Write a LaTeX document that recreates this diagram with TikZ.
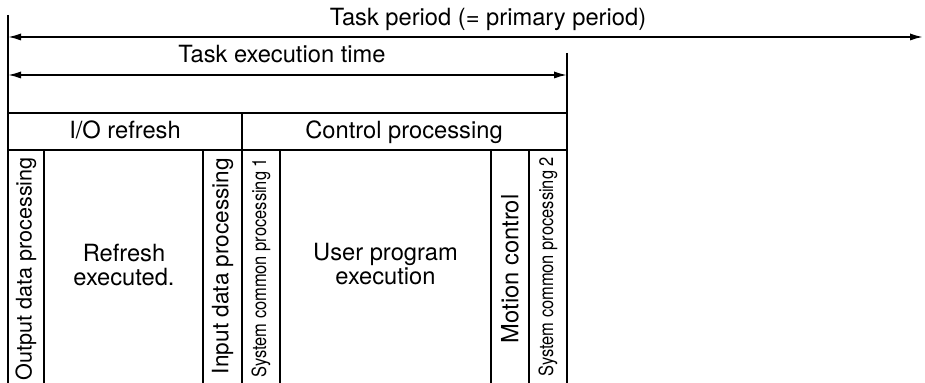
\documentclass[tikz,border=0pt]{standalone}
\usepackage{fontspec}
\setmainfont{TeX Gyre Heros}
\usepackage{graphicx}
\usetikzlibrary{arrows.meta}

\newcommand{\narrowtxt}[1]{\scalebox{0.84}[1]{#1}}

\tikzset{
  rule/.style={line width=0.9pt},
  span/.style={rule, {Latex[length=6.5pt,width=3.6pt]}-{Latex[length=6.5pt,width=3.6pt]}},
  lbl/.style={inner sep=0pt, font=\fontsize{11.85}{11.6}\selectfont},
  vlbl/.style={inner sep=0pt, rotate=90},
}

\begin{document}
\begin{tikzpicture}[x=0.5pt, y=-0.5pt]
  \useasboundingbox (0,0) rectangle (925,383);

  % Period and execution time
  \coordinate (per-a) at (8,37);
  \coordinate (per-b) at (923,37);
  \coordinate (exe-a) at (8,75);
  \coordinate (exe-b) at (567,75);
  \draw[rule] (8,15) -- (8,383);
  \draw[rule] (567,53) -- (567,383);
  \draw[span] (per-a) -- (per-b);
  \draw[span] (exe-a) -- (exe-b);
  \node[lbl, anchor=base] (period) at (488,26) {Task period (= primary period)};
  \node[lbl, anchor=base] (exetime) at (282,63) {Task execution time};

  % Header row
  \draw[rule] (8,113) -- (567,113);
  \draw[rule] (8,150) -- (567,150);
  \draw[rule] (242,113) -- (242,383);
  \node[lbl, anchor=base] (iorefresh) at (125,139) {I/O refresh};
  \node[lbl, anchor=base] (ctrlproc) at (404,139) {Control processing};

  % Columns
  \foreach \cx in {44,203,280,491,529}
    \draw[rule] (\cx,150) -- (\cx,383);

  \node[vlbl, font=\fontsize{10.8}{12}\selectfont] (outdata) at (26,269) {Output data processing};
  \node[lbl, align=center] (refresh) at (124,265) {Refresh\\executed.};
  \node[vlbl, font=\fontsize{11.3}{12}\selectfont] (indata) at (222.5,266) {Input data processing};
  \node[vlbl, font=\fontsize{9.8}{11}\selectfont] (syscom1) at (261,268) {\narrowtxt{System common processing 1}};
  \node[lbl, align=center] (userprog) at (385.5,264) {User program\\execution};
  \node[vlbl, font=\fontsize{11.85}{12}\selectfont] (motion) at (510,269) {Motion control};
  \node[vlbl, font=\fontsize{9.8}{11}\selectfont] (syscom2) at (548,267) {\narrowtxt{System common processing 2}};
\end{tikzpicture}
\end{document}
